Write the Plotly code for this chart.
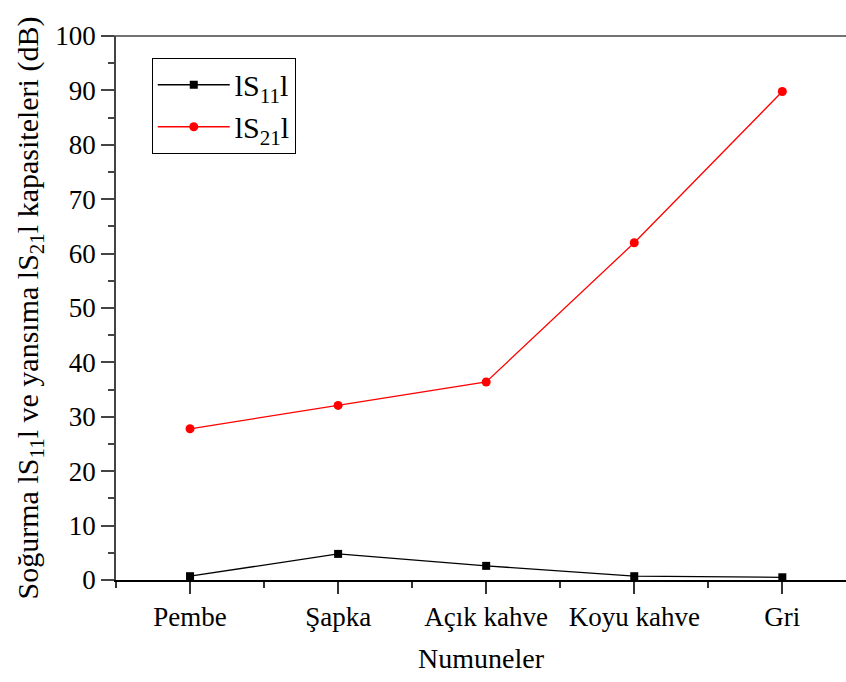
import plotly.graph_objects as go

categories = ["Pembe", "Şapka", "Açık kahve", "Koyu kahve", "Gri"]
s11 = [0.7, 4.8, 2.6, 0.7, 0.5]
s21 = [27.8, 32.1, 36.4, 62.0, 89.8]
y_ticks = [0, 10, 20, 30, 40, 50, 60, 70, 80, 90, 100]

xpos = list(range(len(categories)))
FONT = "Liberation Serif"

fig = go.Figure()
fig.add_trace(go.Scatter(
    x=xpos, y=s11, mode="lines+markers", name="lS<sub>11</sub>l",
    line=dict(color="black", width=1.3),
    marker=dict(symbol="square", size=8, color="black"),
))
fig.add_trace(go.Scatter(
    x=xpos, y=s21, mode="lines+markers", name="lS<sub>21</sub>l",
    line=dict(color="#ff0000", width=1.3),
    marker=dict(symbol="circle", size=9, color="#ff0000"),
))

fig.update_layout(
    width=846, height=682,
    margin=dict(l=116, r=0, t=36, b=102),
    paper_bgcolor="white", plot_bgcolor="white",
    font=dict(family=FONT, color="black", size=27),
    showlegend=True,
    legend=dict(
        x=0.049, y=0.96, xanchor="left", yanchor="top",
        bgcolor="white", bordercolor="black", borderwidth=1,
        font=dict(family=FONT, size=30, color="black"),
        itemwidth=72, tracegroupgap=4,
    ),
    xaxis=dict(
        range=[-0.5, 4.43],
        tickmode="array", tickvals=xpos, ticktext=categories,
        showline=True, linecolor="black", linewidth=1.5,
        ticks="outside", ticklen=12, tickwidth=1.5, tickcolor="#333",
        minor=dict(tickmode="linear", tick0=-0.5, dtick=1, ticks="outside",
                   ticklen=6, tickwidth=1.5, tickcolor="#333"),
        showgrid=False, zeroline=False,
        tickfont=dict(family=FONT, size=27, color="black"),
        title=dict(text="Numuneler", font=dict(family=FONT, size=28, color="black"), standoff=17),
    ),
    yaxis=dict(
        range=[0, 100],
        tickmode="array", tickvals=y_ticks,
        showline=True, linecolor="#444", linewidth=1.5,
        ticks="outside", ticklen=13, tickwidth=1.5, tickcolor="#444",
        minor=dict(tickmode="linear", tick0=0, dtick=5, ticks="outside",
                   ticklen=6, tickwidth=1.5, tickcolor="#444"),
        showgrid=False, zeroline=False,
        tickfont=dict(family=FONT, size=27, color="black"),
        title=dict(text="Soğurma lS<sub>11</sub>l ve yansıma lS<sub>21</sub>l kapasiteleri (dB)",
                   font=dict(family=FONT, size=30, color="black"), standoff=8),
    ),
    shapes=[dict(type="line", xref="paper", yref="paper", x0=-0.018, x1=1, y0=1, y1=1,
                 line=dict(color="#444", width=1.5))],
)

fig.write_html("out.html")
